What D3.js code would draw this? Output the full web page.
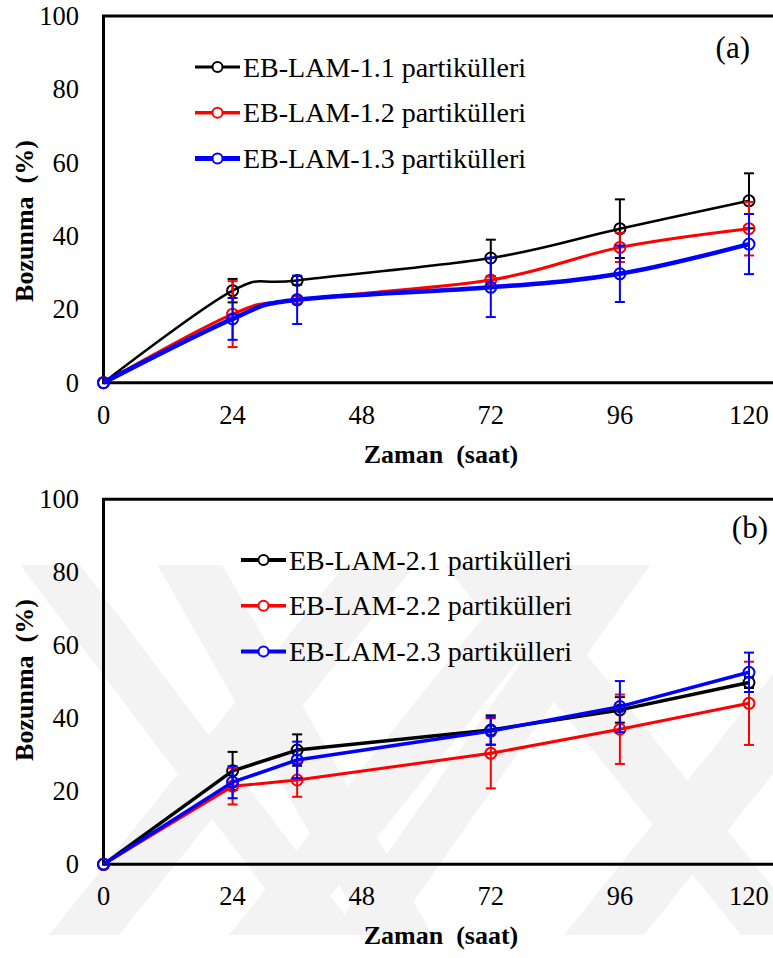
<!DOCTYPE html>
<html>
<head>
<meta charset="utf-8">
<script src="https://cdn.jsdelivr.net/npm/d3@7"></script>
<style>
  body { margin: 0; background: #fff; }
  svg text { font-family: "Liberation Serif", "Times New Roman", Times, "DejaVu Serif", serif; fill: #000; }
</style>
</head>
<body>
<div id="chart"></div>
<script>
// sampling times (saat) and axis ticks
const hours = [0, 24, 36, 72, 96, 120];
const xTicks = [0, 24, 48, 72, 96, 120];
const yTicks = [0, 20, 40, 60, 80, 100];
const colors = ["#000000", "#ff0000", "#0000ff"];

// panel (a)
const namesA = ["EB-LAM-1.1 partikülleri", "EB-LAM-1.2 partikülleri", "EB-LAM-1.3 partikülleri"];
const a1 = [0, 25.1, 27.9, 34.0, 42.0, 49.6];
const a2 = [0, 18.7, 22.6, 28.0, 36.9, 42.0];
const a3 = [0, 17.4, 22.6, 26.0, 29.7, 37.8];
const a1Err = [0, 3.2, 1.2, 5.0, 8.0, 7.5];
const a2Err = [0, 9.0, 1.0, 1.0, 4.0, 7.3];
const a3Err = [0, 5.7, 6.6, 8.1, 7.7, 8.2];

// panel (b)
const namesB = ["EB-LAM-2.1 partikülleri", "EB-LAM-2.2 partikülleri", "EB-LAM-2.3 partikülleri"];
const b1 = [0, 25.6, 31.3, 36.8, 42.3, 49.8];
const b2 = [0, 21.4, 23.1, 30.4, 37.0, 44.1];
const b3 = [0, 22.5, 28.6, 36.5, 43.2, 52.6];
const b1Err = [0, 5.2, 4.3, 4.0, 3.5, 1.5];
const b2Err = [0, 5.0, 4.6, 9.6, 9.5, 11.4];
const b3Err = [0, 4.4, 5.0, 3.8, 7.0, 5.4];

const W = 773, H = 958;
const FONT = "'Liberation Serif', 'Times New Roman', Times, 'DejaVu Serif', serif";
const svg = d3.select("#chart").append("svg")
    .attr("width", W).attr("height", H)
    .attr("font-family", FONT);

// faint diagonal watermark behind panel (b): [x at top, x at bottom, band width]
const wmBands = [[50, 330, 60], [190, 400, 65], [380, 84, 70], [560, 264, 70], [480, 776, 70], [900, 604, 80], [620, 360, 60]];
const wm = svg.append("g").attr("fill", "#f3f3f3");
const wmTop = 565, wmBot = 935;
wmBands.forEach(b => {
    wm.append("polygon").attr("points", [
        [b[0] - b[2] / 2, wmTop], [b[0] + b[2] / 2, wmTop],
        [b[1] + b[2] / 2, wmBot], [b[1] - b[2] / 2, wmBot]
    ].map(p => p.join(",")).join(" "));
});

function drawPanel(opt) {
    const x = d3.scaleLinear().domain([0, 125]).range([103.5, 103.5 + 125 * 5.379]);
    const y = d3.scaleLinear().domain([0, 100]).range([opt.bottom, opt.top]);
    const g = svg.append("g");

    // frame: left, top, bottom lines (right side is cut by the picture)
    g.append("path")
        .attr("d", `M${W + 5},${y(100)}H${x(0)}V${y(0)}H${W + 5}`)
        .attr("fill", "none").attr("stroke", "#000").attr("stroke-width", 3);

    // tick labels
    g.selectAll(".yt").data(yTicks).enter().append("text")
        .attr("x", 79).attr("y", d => y(d) + 9)
        .attr("text-anchor", "end").style("font-size", "26.5px")
        .text(d => d);
    g.selectAll(".xt").data(xTicks).enter().append("text")
        .attr("x", d => x(d)).attr("y", opt.bottom + 41)
        .attr("text-anchor", "middle").style("font-size", "26.5px")
        .text(d => d);

    // axis titles
    g.append("text")
        .attr("x", 441).attr("y", opt.bottom + 80)
        .attr("text-anchor", "middle").style("font-size", "26px").style("font-weight", "bold")
        .text("Zaman\u00a0\u00a0(saat)");
    g.append("text")
        .attr("transform", `translate(33,${opt.ytitle}) rotate(-90)`)
        .attr("text-anchor", "middle").style("font-size", "26px").style("font-weight", "bold")
        .text("Bozunma\u00a0\u00a0(%)");

    // panel label
    g.append("text")
        .attr("x", opt.labelX).attr("y", opt.labelY)
        .attr("text-anchor", "end").style("font-size", "31px")
        .text(opt.label);

    const line = d3.line()
        .x((d, i) => x(hours[i]))
        .y(d => y(d))
        .curve(opt.curve);

    opt.series.forEach((s, k) => {
        const c = colors[k];
        // error bars
        const eb = g.append("g").attr("stroke", c).attr("stroke-width", 2);
        s.values.forEach((v, i) => {
            const e = s.err[i];
            if (!e) return;
            const cx = x(hours[i]);
            eb.append("line").attr("x1", cx).attr("x2", cx).attr("y1", y(v - e)).attr("y2", y(v + e));
            eb.append("line").attr("x1", cx - 5).attr("x2", cx + 5).attr("y1", y(v - e)).attr("y2", y(v - e));
            eb.append("line").attr("x1", cx - 5).attr("x2", cx + 5).attr("y1", y(v + e)).attr("y2", y(v + e));
        });
        g.append("path").datum(s.values)
            .attr("d", line)
            .attr("fill", "none").attr("stroke", c)
            .attr("stroke-width", s.width).attr("stroke-linejoin", "round");
        g.selectAll(null).data(s.values).enter().append("circle")
            .attr("cx", (d, i) => x(hours[i])).attr("cy", d => y(d))
            .attr("r", 5.5).attr("fill", "none")
            .attr("stroke", c).attr("stroke-width", 2);

        // legend
        const ly = opt.legendY + k * 45.7;
        g.append("line")
            .attr("x1", opt.legendX).attr("x2", opt.legendX + 45)
            .attr("y1", ly).attr("y2", ly)
            .attr("stroke", c).attr("stroke-width", s.width + 0.5);
        g.append("circle")
            .attr("cx", opt.legendX + 22.5).attr("cy", ly).attr("r", 5)
            .attr("fill", "#fff").attr("stroke", c).attr("stroke-width", 2);
        g.append("text")
            .attr("x", opt.legendX + 48).attr("y", ly + 9.5)
            .style("font-size", "28px")
            .text(opt.names[k]);
    });
}

drawPanel({
    top: 16, bottom: 382.7, ytitle: 221,
    label: "(a)", labelX: 750, labelY: 58,
    legendX: 195, legendY: 67,
    names: namesA,
    curve: d3.curveCatmullRom.alpha(0),
    series: [
        { values: a1, err: a1Err, width: 2.5 },
        { values: a2, err: a2Err, width: 3 },
        { values: a3, err: a3Err, width: 4.5 }
    ]
});

drawPanel({
    top: 499.3, bottom: 864.3, ytitle: 680,
    label: "(b)", labelX: 768, labelY: 538,
    legendX: 241, legendY: 560,
    names: namesB,
    curve: d3.curveLinear,
    series: [
        { values: b1, err: b1Err, width: 3.5 },
        { values: b2, err: b2Err, width: 3 },
        { values: b3, err: b3Err, width: 3.5 }
    ]
});
</script>
</body>
</html>
